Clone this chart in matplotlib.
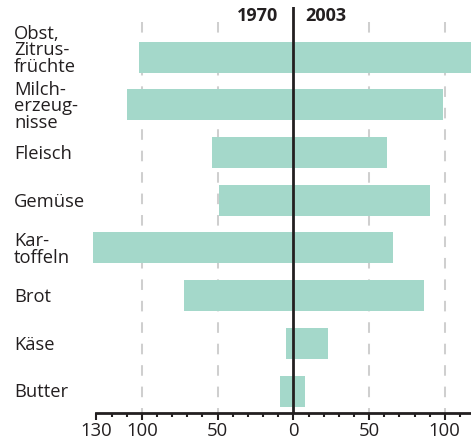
import matplotlib
matplotlib.use("Agg")
import matplotlib.pyplot as plt
import matplotlib.transforms as mtransforms
from matplotlib.ticker import FixedLocator, FuncFormatter

plt.rcParams['font.family'] = ['Open Sans', 'DejaVu Sans']

categories = ["Obst,\nZitrus-\nfrüchte", "Milch-\nerzeug-\nnisse", "Fleisch", "Gemüse",
              "Kar-\ntoffeln", "Brot", "Käse", "Butter"]
values_1970 = [102, 110, 54, 49, 132, 72, 5, 9]
values_2003 = [118, 99, 62, 90, 66, 86, 23, 8]
year_labels = ["1970", "2003"]
major_ticks = [-130, -100, -50, 0, 50, 100]
minor_ticks = [-120, -110, -90, -80, -70, -60, -40, -30, -20, -10,
               10, 20, 30, 40, 60, 70, 80, 90, 110]
grid_ticks = [-100, -50, 50, 100]

BAR = "#a4d8ca"
INK = "#231f20"
GRID = "#cfcfcf"

W, H = 471, 443
PXU = 1.514
XMIN, XMAX = -134, 117.3
left_px = 293.3 + XMIN * PXU
fig = plt.figure(figsize=(W / 100, H / 100), dpi=100)
ax = fig.add_axes([left_px / W, (H - 413) / H, 1 - left_px / W, 406 / H])

ypos = list(range(len(categories)))
ax.set_xlim(XMIN, XMAX)
ax.set_ylim(7.46, -1.05)

# dashed grid behind bars
ax.vlines(grid_ticks, -0.73, 7.46, colors=GRID, linewidth=1.45,
          linestyles=[(0, (5.25, 5.4))], zorder=1)

ax.barh(ypos, [-v for v in values_1970], height=0.65, color=BAR, zorder=2, linewidth=0)
ax.barh(ypos, values_2003, height=0.65, color=BAR, zorder=2, linewidth=0)

ax.axvline(0, color=INK, linewidth=2.0, zorder=3)

for s in ["top", "right", "left"]:
    ax.spines[s].set_visible(False)
ax.spines["bottom"].set_linewidth(2.0)
ax.spines["bottom"].set_color(INK)
ax.spines["bottom"].set_zorder(4)
ax.spines["bottom"].set_bounds(-130, XMAX)

ax.set_yticks([])
ax.xaxis.set_major_locator(FixedLocator(major_ticks))
ax.xaxis.set_minor_locator(FixedLocator(minor_ticks))
ax.xaxis.set_major_formatter(FuncFormatter(lambda v, p: f"{abs(int(round(v)))}"))
ax.tick_params(axis="x", which="major", length=5.3, width=1.5, color=INK,
               labelsize=13.3, labelcolor=INK, pad=1.5)
ax.tick_params(axis="x", which="minor", length=3.2, width=1.5, color=INK)

trans = mtransforms.blended_transform_factory(fig.transFigure, ax.transData)
for i, lab in enumerate(categories):
    off = -0.17 if i == 0 else 0.0
    ax.text(14 / W, ypos[i] + off + 0.03, lab, transform=trans, ha="left", va="center",
            fontsize=13.2, color=INK, linespacing=0.88, clip_on=False)

fig.text(278 / W, (H - 16) / H, year_labels[0], ha="right", va="center",
         fontsize=13, fontweight="bold", color=INK)
fig.text(305 / W, (H - 16) / H, year_labels[1], ha="left", va="center",
         fontsize=13, fontweight="bold", color=INK)

fig.savefig("out.png", dpi=100)
